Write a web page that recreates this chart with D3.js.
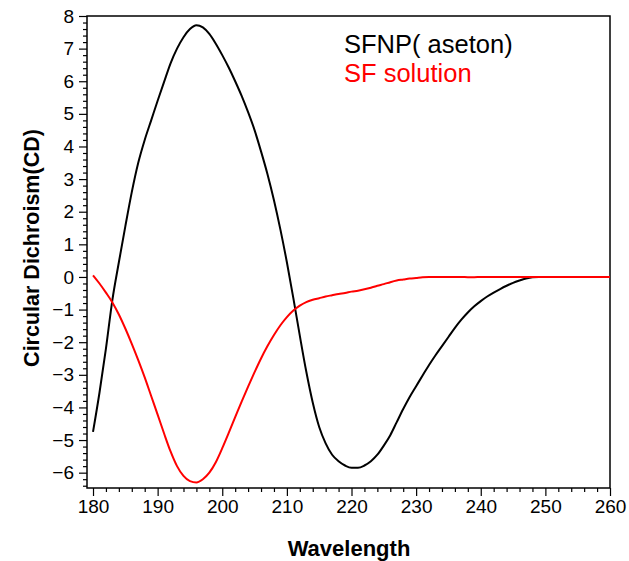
<!DOCTYPE html>
<html>
<head>
<meta charset="utf-8">
<script src="https://cdn.jsdelivr.net/npm/d3@7"></script>
<style>
  body { margin: 0; background: #fff; }
</style>
</head>
<body>
<div id="chart"></div>
<script>
// wavelengths (nm), one reading per nm
let wavelength = d3.range(180, 261);

// SFNP( aseton)  180..260
let sfnp = [
  -4.75, -3.55, -2.2, -0.7, 0.45, 1.55, 2.6, 3.5, 4.2, 4.8,
  5.4, 5.98, 6.55, 7.0, 7.35, 7.6, 7.72, 7.65, 7.45, 7.15,
  6.8, 6.42, 6.0, 5.55, 5.05, 4.5, 3.85, 3.15, 2.35, 1.45,
  0.45, -0.65, -1.8, -2.9, -3.85, -4.6, -5.1, -5.45, -5.65, -5.78,
  -5.85, -5.85, -5.78, -5.65, -5.45, -5.17, -4.85, -4.45, -4.05, -3.68,
  -3.35, -3.02, -2.7, -2.4, -2.12, -1.84, -1.56, -1.31, -1.09, -0.9,
  -0.74, -0.6, -0.48, -0.37, -0.27, -0.18, -0.11, -0.05, -0.01, 0,
  0, 0, 0, 0, 0, 0, 0, 0, 0, 0, 0
];

// SF solution  180..260
let sfSolution = [
  0.05, -0.2, -0.48, -0.78, -1.15, -1.58, -2.05, -2.55, -3.08, -3.65,
  -4.22, -4.8, -5.35, -5.8, -6.1, -6.26, -6.3, -6.2, -6.0, -5.68,
  -5.25, -4.78, -4.3, -3.82, -3.36, -2.92, -2.5, -2.12, -1.78, -1.48,
  -1.23, -1.03, -0.88, -0.77, -0.7, -0.65, -0.6, -0.56, -0.52, -0.49,
  -0.45, -0.42, -0.38, -0.33, -0.27, -0.22, -0.16, -0.11, -0.08, -0.05,
  -0.03, -0.01, 0, 0, 0, 0, 0, 0, -0.01, -0.01,
  0, 0, 0, 0, 0, 0, 0, 0, 0, 0,
  0, 0, 0, 0, 0, 0, 0, 0, 0, 0, 0
];

let xTicks = [180, 190, 200, 210, 220, 230, 240, 250, 260];
let yTicks = [-6, -5, -4, -3, -2, -1, 0, 1, 2, 3, 4, 5, 6, 7, 8];

let legendNames = ["SFNP( aseton)", "SF solution"];
let colors = ["#000000", "#ff0000"];

let font = "'Liberation Sans', Arial, Helvetica, sans-serif";

let w = 629;
let h = 561;

let svg = d3.select("#chart")
  .append("svg")
  .attr("width", w)
  .attr("height", h)
  .style("font-family", font);

let x = d3.scaleLinear().domain([179.07, 260]).range([87, 610]);
let y = d3.scaleLinear().domain([-6.47, 8]).range([488, 16]);

// frame
svg.append("rect")
  .attr("x", x.range()[0])
  .attr("y", y.range()[1])
  .attr("width", x.range()[1] - x.range()[0])
  .attr("height", y.range()[0] - y.range()[1])
  .attr("fill", "none")
  .attr("stroke", "#000")
  .attr("stroke-width", 1.5);

// minor ticks first
let xMinor = d3.range(180, 261, 2).filter(d => d % 10 != 0);
let yMinor = d3.range(-64, 81, 2).map(d => d / 10).filter(d => Math.round(d * 10) % 10 != 0);

svg.append("g")
  .attr("transform", `translate(0,${y.range()[0]})`)
  .call(d3.axisBottom(x).tickValues(xMinor).tickSize(4).tickFormat(""))
  .call(g => g.select(".domain").remove());

svg.append("g")
  .attr("transform", `translate(${x.range()[0]},0)`)
  .call(d3.axisLeft(y).tickValues(yMinor).tickSize(4).tickFormat(""))
  .call(g => g.select(".domain").remove());

// major ticks
let xAxis = svg.append("g")
  .attr("transform", `translate(0,${y.range()[0]})`)
  .call(d3.axisBottom(x).tickValues(xTicks).tickSize(8).tickPadding(4).tickFormat(d3.format("d")))
  .call(g => g.select(".domain").remove());

let yAxis = svg.append("g")
  .attr("transform", `translate(${x.range()[0]},0)`)
  .call(d3.axisLeft(y).tickValues(yTicks).tickSize(8).tickPadding(5).tickFormat(d3.format("d")))
  .call(g => g.select(".domain").remove());

svg.selectAll("g").attr("font-family", font);
svg.selectAll(".tick text")
  .attr("font-size", 19)
  .attr("fill", "#000");

svg.selectAll(".tick line").attr("stroke-width", 1.2);

// curves
let line = d3.line()
  .x((d, i) => x(wavelength[i]))
  .y(d => y(d))
  .curve(d3.curveMonotoneX);

[sfnp, sfSolution].forEach((series, i) => {
  svg.append("path")
    .datum(series)
    .attr("d", line)
    .attr("fill", "none")
    .attr("stroke", colors[i])
    .attr("stroke-width", 2);
});

// legend (text only)
legendNames.forEach((name, i) => {
  svg.append("text")
    .attr("x", 344)
    .attr("y", 53 + i * 29)
    .attr("font-size", 25.5)
    .attr("font-family", font)
    .attr("fill", colors[i])
    .text(name);
});

// axis titles
svg.append("text")
  .attr("x", 349)
  .attr("y", 556)
  .attr("text-anchor", "middle")
  .attr("font-size", 22)
  .attr("font-weight", "bold")
  .attr("font-family", font)
  .text("Wavelength");

svg.append("text")
  .attr("transform", "translate(39,248) rotate(-90)")
  .attr("text-anchor", "middle")
  .attr("font-size", 21.5)
  .attr("font-weight", "bold")
  .attr("font-family", font)
  .text("Circular Dichroism(CD)");
</script>
</body>
</html>
